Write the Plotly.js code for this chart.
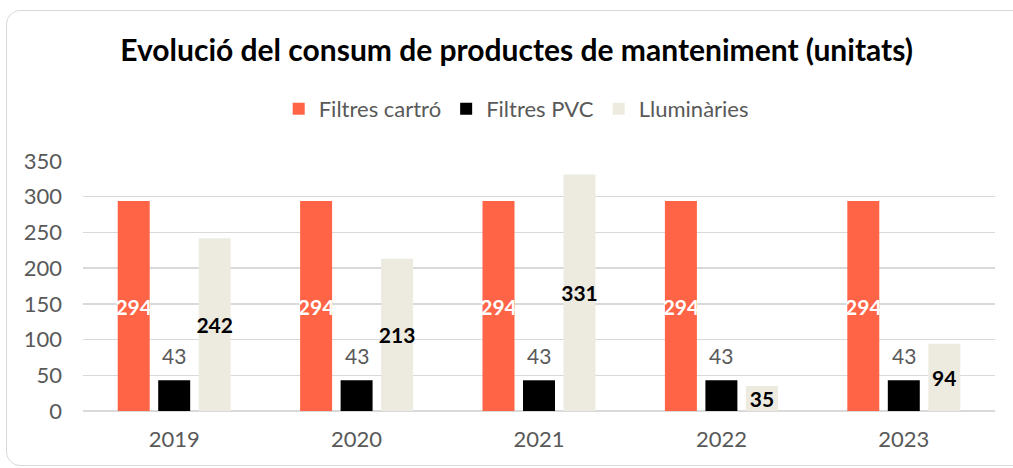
<!DOCTYPE html>
<html>
<head>
<meta charset="utf-8">
<script src="https://cdn.plot.ly/plotly-3.0.1.min.js"></script>
<style>
  body { margin: 0; background: #fff; }
  #frame { position: absolute; left: 6px; top: 10px; width: 1020px; height: 454px;
           border: 1px solid #d9d9d9; border-radius: 14px; pointer-events: none; }
  #chart { position: absolute; left: 0; top: 0; width: 1013px; height: 468px; }
</style>
</head>
<body>
<div id="chart"></div>
<div id="frame"></div>
<script>
// years on the x axis
let years = ["2019", "2020", "2021", "2022", "2023"]

// consumption per product
let filtresCartro = [294, 294, 294, 294, 294]
let filtresPVC = [43, 43, 43, 43, 43]
let lluminaries = [242, 213, 331, 35, 94]

let fontName = "Lato, 'Open Sans', sans-serif"

let cartroTrace = {
    x: years,
    y: filtresCartro,
    name: "Filtres cartró",
    type: "bar",
    marker: {color: "#FF6446"},
    text: filtresCartro.map(String),
    textposition: "inside",
    insidetextanchor: "middle",
    textangle: 0,
    constraintext: "none",
    textfont: {family: fontName, size: 21, color: "#ffffff", weight: "bold"},
    hoverinfo: "skip"
}

let pvcTrace = {
    x: years,
    y: filtresPVC,
    name: "Filtres PVC",
    type: "bar",
    marker: {color: "#000000"},
    hoverinfo: "skip"
}

let llumTrace = {
    x: years,
    y: lluminaries,
    name: "Lluminàries",
    type: "bar",
    marker: {color: "#EDEBE0"},
    text: lluminaries.map(String),
    textposition: "inside",
    insidetextanchor: "middle",
    textangle: 0,
    constraintext: "none",
    textfont: {family: fontName, size: 21, color: "#000000", weight: "bold"},
    hoverinfo: "skip"
}

// the grey PVC labels sit a bit above their bars (x given as category index)
let pvcLabels = years.map((yr, i) => ({
    x: i,
    y: filtresPVC[i],
    text: String(filtresPVC[i]),
    showarrow: false,
    yanchor: "bottom",
    yshift: 10,
    font: {family: fontName, size: 21, color: "#595959"}
}))

let layout = {
    title: {
        text: "<b>Evolució del consum de productes de manteniment (unitats)</b>",
        font: {family: fontName, size: 30, color: "#000000"},
        x: 0.51,
        xanchor: "center",
        y: 0.893,
        yanchor: "middle"
    },
    barmode: "group",
    bargap: 0.334,
    bargroupgap: 0.21,
    showlegend: true,
    legend: {
        orientation: "h",
        x: 0.475,
        xanchor: "center",
        y: 1.208,
        yanchor: "middle",
        font: {family: fontName, size: 22, color: "#595959"},
        itemwidth: 30,
        tracegroupgap: 0
    },
    xaxis: {
        type: "category",
        tickfont: {family: fontName, size: 22, color: "#595959"},
        showgrid: false,
        showline: false,
        ticks: "",
        ticklabelstandoff: 13
    },
    yaxis: {
        range: [0, 350],
        dtick: 50,
        tickfont: {family: fontName, size: 22, color: "#595959"},
        gridcolor: "#d9d9d9",
        gridwidth: 1.5,
        zeroline: true,
        zerolinecolor: "#d9d9d9",
        zerolinewidth: 1.5,
        ticks: "",
        ticklabelstandoff: 20
    },
    annotations: pvcLabels,
    margin: {l: 83, r: 18, t: 161, b: 57},
    paper_bgcolor: "#ffffff",
    plot_bgcolor: "#ffffff",
    width: 1013,
    height: 468
}

Plotly.newPlot("chart", [cartroTrace, pvcTrace, llumTrace], layout, {displayModeBar: false, staticPlot: true})
</script>
</body>
</html>
